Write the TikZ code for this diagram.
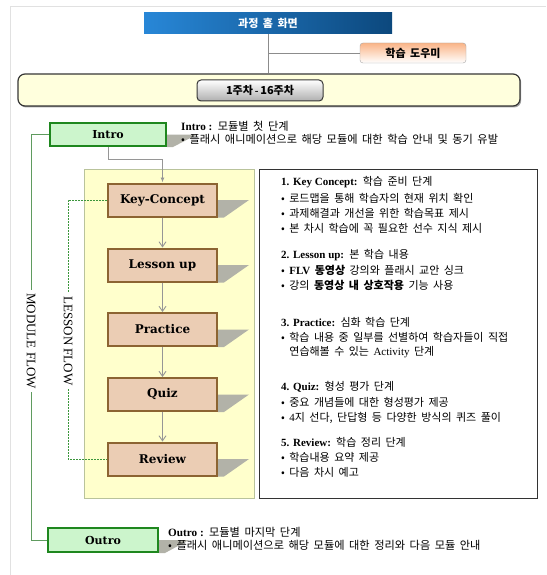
\documentclass[tikz,border=0pt]{standalone}
\usepackage{fontspec}
\setmainfont{Liberation Serif}
\newfontfamily\kr{Noto Sans CJK KR}[WordSpace=1.8]
\newfontfamily\lab{DejaVu Serif}
\usetikzlibrary{calc,arrows.meta,shadows}
\definecolor{homeL}{RGB}{40,135,215}
\definecolor{homeR}{RGB}{12,72,125}
\definecolor{helpT}{RGB}{250,180,135}
\definecolor{bandF}{RGB}{255,255,221}
\definecolor{bandD}{RGB}{55,55,55}
\definecolor{weekB}{RGB}{175,175,175}
\definecolor{grnF}{RGB}{204,245,204}
\definecolor{grnD}{RGB}{30,135,30}
\definecolor{tanF}{RGB}{235,205,180}
\definecolor{tanD}{RGB}{140,100,50}
\definecolor{panF}{RGB}{255,255,204}
\definecolor{panD}{RGB}{185,195,155}
\definecolor{shdC}{RGB}{178,178,168}
\definecolor{modC}{RGB}{95,155,95}
\definecolor{lesC}{RGB}{60,150,60}
\definecolor{frameC}{RGB}{225,225,225}
\definecolor{arrC}{RGB}{150,150,150}
\newcommand\lt[1]{{\rmfamily #1}}
\newcommand\hd[1]{{\rmfamily\bfseries #1}}
\newcommand\kb[1]{{\bfseries #1}}
\tikzset{
  homebox/.style={left color=homeL, right color=homeR, minimum width=248, minimum height=21, inner sep=0,
    text=white, font=\kr\bfseries\fontsize{11}{12}\selectfont},
  helpbox/.style={rounded corners=3, top color=helpT, bottom color=white, draw=black!35, minimum width=106, minimum height=20,
    inner sep=0, font=\kr\bfseries\fontsize{11}{12}\selectfont},
  bandbox/.style={rounded corners=7, fill=bandF, draw=bandD, line width=1.2, minimum width=502, minimum height=32,
    drop shadow={shadow xshift=1.2pt, shadow yshift=-1.5pt, fill=black!45, opacity=0.8}},
  weekbox/.style={rounded corners=4, top color=white, bottom color=weekB, draw=bandD, line width=1, minimum width=126,
    minimum height=21, inner sep=0, font=\kr\bfseries\fontsize{11}{12}\selectfont},
  modbox/.style={fill=grnF, draw=grnD, line width=2, minimum height=23, inner sep=0, font=\lab\bfseries\fontsize{11}{12}\selectfont},
  lesbox/.style={fill=tanF, draw=tanD, line width=2, minimum width=109, minimum height=33, inner sep=0,
    font=\lab\bfseries\fontsize{12}{13}\selectfont},
  panel/.style={fill=panF, draw=panD, line width=1, minimum width=170, minimum height=329},
  infobox/.style={fill=white, draw=black!80, line width=0.9, minimum width=278, minimum height=329},
  shd/.style={fill=shdC},
  arr/.style={draw=arrC, line width=0.9},
  txt/.style={anchor=west, inner sep=0, font=\kr\fontsize{11}{12}\selectfont},
  smtxt/.style={anchor=west, inner sep=0, font=\kr\fontsize{11.2}{12}\selectfont},
  flowlbl/.style={rotate=-90, fill=white, inner sep=3, font=\rmfamily\fontsize{13}{14}\selectfont},
}
\newcommand\shadowof[2]{\fill[shd] (#1.east) -- ++(#2,0) -- ($(#1.south east)+(6,0)$) -- (#1.south east) -- cycle;}
\begin{document}
\begin{tikzpicture}[x=1pt,y=-1pt]
\useasboundingbox (0,0) rectangle (546,575);
\fill[white] (0,0) rectangle (546,575);
\draw[frameC, line width=1] (10,575) -- (10,7) -- (546,7);

% top part
\node[homebox] (home) at (268,23.5) {과정 홈 화면};
\node[helpbox] (help) at (413,53) {학습 도우미};
\node[bandbox] (band) at (269,90) {};
\draw[black!45, line width=0.8] (home.south) -- (home.south |- band.north);
\draw[black!45, line width=0.8] (home.south |- help.west) -- (help.west);
\node[weekbox] (week) at (260,90.5) {1주차\lt{\bfseries\,-\,}16주차};

% panels
\node[panel] (pan) at (169,333.5) {};
\node[infobox] (info) at (398,333.5) {};

% module boxes
\node[modbox, minimum width=116] (intro) at (108,134.5) {Intro};
\node[modbox, minimum width=110, minimum height=24] (outro) at (103,540) {Outro};
\shadowof{intro}{30}
\shadowof{outro}{30}
\node[modbox, minimum width=116] at (108,134.5) {Intro};
\node[modbox, minimum width=110, minimum height=24] at (103,540) {Outro};

% lesson boxes
\foreach \n/\y/\t in {kc/200/Key-Concept, lu/265/Lesson up, pr/329.5/Practice, qz/394.5/Quiz, rv/459/Review}{
  \node[lesbox] (\n) at (162.5,\y) {\t};
  \shadowof{\n}{31}
  \node[lesbox] at (162.5,\y) {\t};
}

% connectors
\draw[arr, -{Latex[length=5pt,width=4pt]}] (intro.south) |- ($(kc.north)+(0,-23.5)$) -- (kc.north);
\draw[arr, -{Straight Barb[length=5pt,width=7pt]}] (kc.south) -- (lu.north);
\draw[arr, -{Straight Barb[length=5pt,width=7pt]}] (lu.south) -- (pr.north);
\draw[arr, -{Straight Barb[length=5pt,width=7pt]}] (pr.south) -- (qz.north);
\draw[arr, -{Straight Barb[length=5pt,width=7pt]}] (qz.south) -- (rv.north);

% flows
\coordinate (m1) at (31,134.5);
\coordinate (m2) at (31,540);
\draw[modC, line width=1] (intro.west) -- (m1) -- (m2) -- (outro.west);
\node[flowlbl] (modlbl) at (31,341) {MODULE FLOW};
\coordinate (l1) at (68,200);
\coordinate (l2) at (68,459);
\draw[lesC, line width=0.8, dashed, dash pattern=on 2pt off 1pt] (kc.west) -- (l1) -- (l2) -- (rv.west);
\node[flowlbl] (leslbl) at (68,341) {LESSON FLOW};

% intro / outro texts
\node[smtxt] (it1) at (181,126) {\hd{Intro :} 모듈별 첫 단계};
\node[smtxt] (it2) at (181,139) {• 플래시 애니메이션으로 해당 모듈에 대한 학습 안내 및 동기 유발};
\node[smtxt] (ot1) at (168,532) {\hd{Outro :} 모듈별 마지막 단계};
\node[smtxt] (ot2) at (168,545) {• 플래시 애니메이션으로 해당 모듈에 대한 정리와 다음 모듈 안내};

% info texts
\foreach \y/\t [count=\i] in {
  182/{\hd{1. Key Concept:} 학습 준비 단계},
  198/{• 로드맵을 통해 학습자의 현재 위치 확인},
  213/{• 과제해결과 개선을 위한 학습목표 제시},
  228/{• 본 차시 학습에 꼭 필요한 선수 지식 제시},
  255/{\hd{2. Lesson up:} 본 학습 내용},
  270/{• \hd{FLV} \kb{동영상} 강의와 플래시 교안 싱크},
  285/{• 강의 \kb{동영상 내 상호작용} 기능 사용},
  322/{\hd{3. Practice:} 심화 학습 단계},
  337/{• 학습 내용 중 일부를 선별하여 학습자들이 직접},
  352/{\hphantom{• }연습해볼 수 있는 \lt{Activity} 단계},
  387/{\hd{4. Quiz:} 형성 평가 단계},
  402/{• 중요 개념들에 대한 형성평가 제공},
  418/{• \lt{4}지 선다, 단답형 등 다양한 방식의 퀴즈 풀이},
  442/{\hd{5. Review:} 학습 정리 단계},
  457/{• 학습내용 요약 제공},
  472/{• 다음 차시 예고}}{
  \node[txt] (r\i) at (281,\y) {\t};
}
\end{tikzpicture}
\end{document}
